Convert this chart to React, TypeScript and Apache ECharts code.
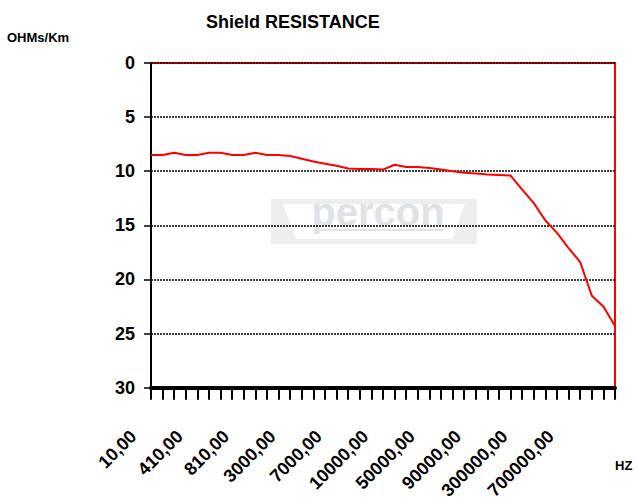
import React, { useEffect, useRef } from "react";
import * as echarts from "echarts";

const frequencies: number[] = [
  10, 110, 210, 310, 410, 510, 610, 710, 810, 910,
  1000, 2000, 3000, 4000, 5000, 6000, 7000, 8000, 9000, 9500,
  10000, 20000, 30000, 40000, 50000, 60000, 70000, 80000, 90000, 100000,
  200000, 250000, 300000, 400000, 500000, 600000, 700000, 800000, 900000, 1000000,
  2000000,
];
const categories: string[] = frequencies.map((f) => `${f},00`);

const resistance: number[] = [
  8.5, 8.5, 8.3, 8.5, 8.5, 8.3, 8.3, 8.5, 8.5, 8.3,
  8.5, 8.5, 8.6, 8.85, 9.1, 9.3, 9.5, 9.75, 9.8, 9.8,
  9.85, 9.4, 9.6, 9.6, 9.7, 9.85, 10.0, 10.15, 10.2, 10.3,
  10.35, 10.4, 11.7, 12.95, 14.55, 15.7, 17.1, 18.4, 21.5, 22.5,
  24.3,
];

const yTicks = { min: 0, max: 30, interval: 5 };
const lastLabelIndex = 36;

const FONT = "'Liberation Sans', Arial, Helvetica, sans-serif";

export default function App() {
  const ref = useRef<HTMLDivElement>(null);

  useEffect(() => {
    document.body.style.margin = "0";
    if (!ref.current) return;
    const chart = echarts.init(ref.current, undefined, { renderer: "svg" });
    const wmText = "#e0e3e6";
    const wmFrame = "#eceef0";
    chart.setOption({
      animation: false,
      backgroundColor: "#ffffff",
      title: {
        text: "Shield RESISTANCE",
        left: 201,
        top: 8,
        textStyle: { fontFamily: FONT, fontSize: 18, fontWeight: "bold", color: "#000" },
      },
      grid: {
        left: 151,
        right: 24,
        top: 63,
        bottom: 114,
        show: true,
        borderColor: "#ff0000",
        borderWidth: 2,
        containLabel: false,
      },
      xAxis: [
        {
          type: "category",
          data: categories,
          boundaryGap: false,
          position: "bottom",
          axisLine: { show: true, onZero: false, lineStyle: { color: "#000000", width: 4 } },
          axisTick: {
            show: true,
            interval: 0,
            length: 12,
            lineStyle: { color: "#000000", width: 2 },
          },
          axisLabel: {
            interval: (idx: number) => idx % 4 === 0 && idx <= lastLabelIndex,
            rotate: 45,
            margin: 28,
            padding: [0, 25, 0, 0],
            fontFamily: FONT,
            fontSize: 18,
            fontWeight: "bold",
            color: "#000",
          },
          splitLine: { show: false },
        },
      ],
      yAxis: {
        type: "value",
        inverse: true,
        min: yTicks.min,
        max: yTicks.max,
        interval: yTicks.interval,
        axisLine: { show: true, onZero: false, lineStyle: { color: "#000", width: 2 } },
        axisTick: { show: true, length: 7, lineStyle: { color: "#000", width: 1.5 } },
        axisLabel: {
          margin: 16,
          fontFamily: FONT,
          fontSize: 18,
          fontWeight: "bold",
          color: "#000",
        },
        splitLine: { show: true, lineStyle: { color: "#000", width: 1.5, type: [2, 1] } },
      },
      graphic: [
        { type: "rect", z: -1, shape: { x: 271, y: 199, width: 206, height: 45 }, style: { fill: wmFrame } },
        {
          type: "polygon",
          z: -1,
          shape: { points: [[283, 204], [465, 204], [452, 239], [296, 239]] },
          style: { fill: "#ffffff" },
        },
        {
          type: "text",
          z: -1,
          style: {
            text: "percon",
            x: 378,
            y: 212,
            align: "center",
            verticalAlign: "middle",
            font: `bold 40px ${FONT}`,
            fill: wmText,
          },
        },
        { type: "line", z: -1, shape: { x1: 313, y1: 230, x2: 443, y2: 230 }, style: { stroke: wmText, lineWidth: 2 } },
        {
          type: "text",
          z: 10,
          style: { text: "OHMs/Km", x: 7, y: 37, verticalAlign: "middle", font: `bold 13px ${FONT}`, fill: "#000" },
        },
        {
          type: "text",
          z: 10,
          style: { text: "HZ", x: 615, y: 465, verticalAlign: "middle", font: `bold 13px ${FONT}`, fill: "#000" },
        },
      ],
      series: [
        {
          type: "line",
          data: resistance,
          symbol: "none",
          lineStyle: { color: "#ff0000", width: 2 },
          z: 5,
        },
      ],
    });
    return () => chart.dispose();
  }, []);

  return <div ref={ref} style={{ width: 639, height: 502 }} />;
}
